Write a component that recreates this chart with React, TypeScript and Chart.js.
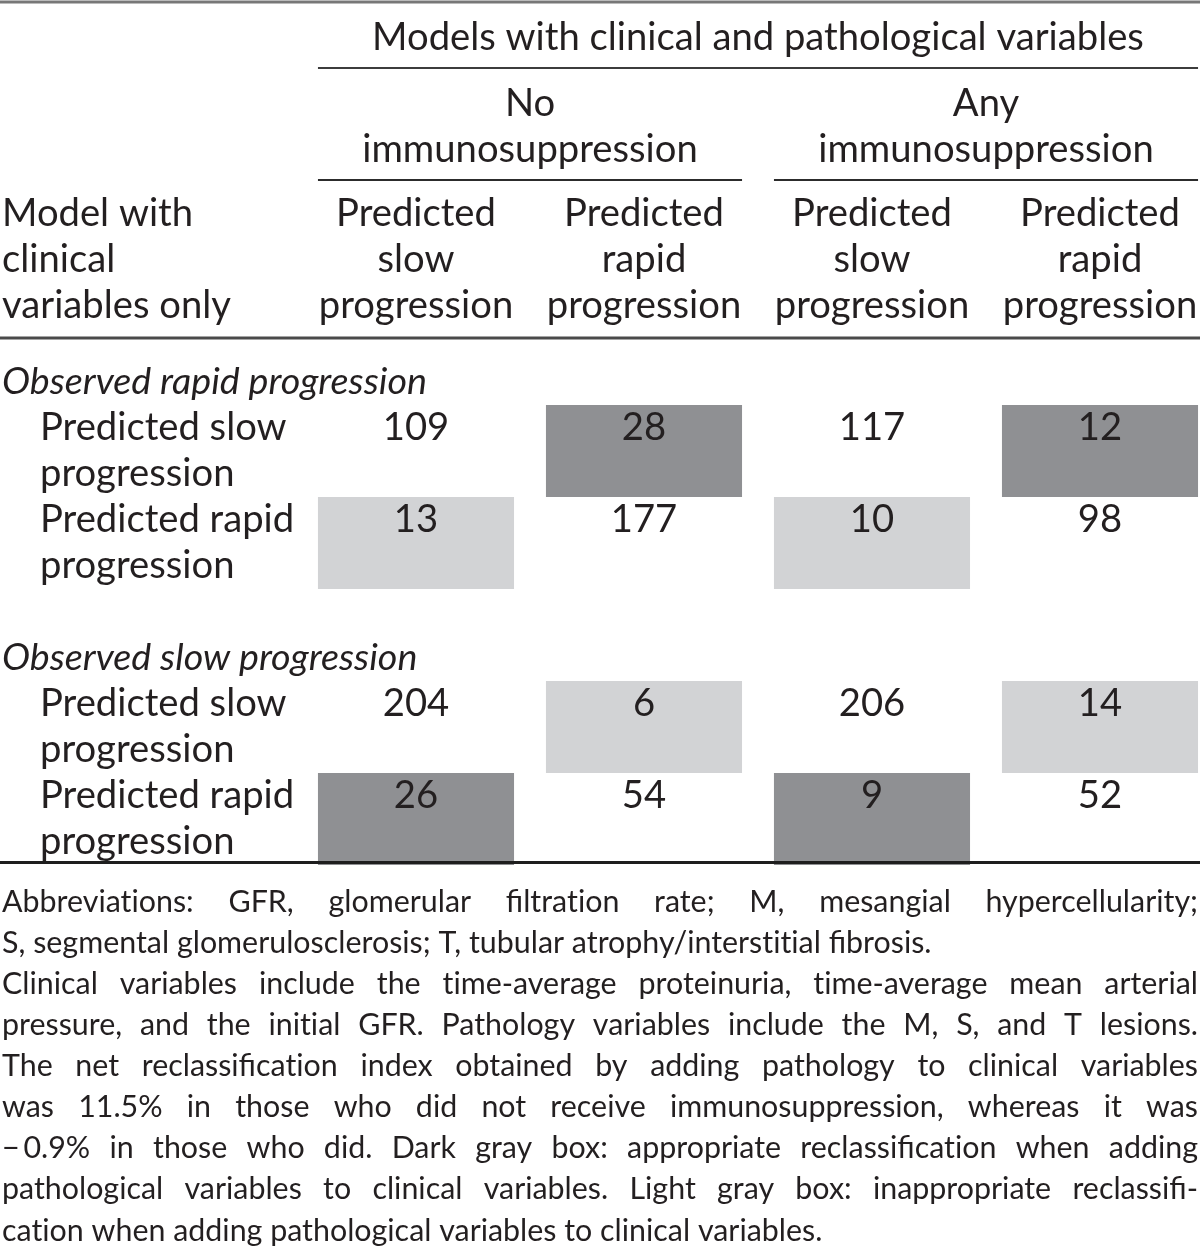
import React, { useEffect, useRef } from "react";
import { Chart, registerables } from "chart.js";

Chart.register(...registerables);

// ---------- DATA ----------
const columnKeys = ["noSlow", "noRapid", "anySlow", "anyRapid"];
const spanningHeader = "Models with clinical and pathological variables";
const groupHeaders = [
  ["No", "immunosuppression"],
  ["Any", "immunosuppression"],
];
const columnHeaders = [
  ["Predicted", "slow", "progression"],
  ["Predicted", "rapid", "progression"],
  ["Predicted", "slow", "progression"],
  ["Predicted", "rapid", "progression"],
];
const stubHeader = ["Model with", "clinical", "variables only"];
const sectionTitles = ["Observed rapid progression", "Observed slow progression"];
const sectionFirstRow = [0, 2];
const rowLabels = [
  ["Predicted slow", "progression"],
  ["Predicted rapid", "progression"],
  ["Predicted slow", "progression"],
  ["Predicted rapid", "progression"],
];
// row index positions on the table's row axis (a blank row separates the sections)
const rowStarts = [0, 1, 3, 4];
const cellValues = [
  [109, 28, 117, 12],
  [13, 177, 10, 98],
  [204, 6, 206, 14],
  [26, 54, 9, 52],
];
const cellShade = [
  ["", "dark", "", "dark"],
  ["light", "", "light", ""],
  ["", "light", "", "light"],
  ["dark", "", "dark", ""],
];
const footnoteLines = [
  "Abbreviations: GFR, glomerular filtration rate; M, mesangial hypercellularity;",
  "S, segmental glomerulosclerosis; T, tubular atrophy/interstitial fibrosis.",
  "Clinical variables include the time-average proteinuria, time-average mean arterial",
  "pressure, and the initial GFR. Pathology variables include the M, S, and T lesions.",
  "The net reclassification index obtained by adding pathology to clinical variables",
  "was 11.5% in those who did not receive immunosuppression, whereas it was",
  "\u2212\u20090.9% in those who did. Dark gray box: appropriate reclassification when adding",
  "pathological variables to clinical variables. Light gray box: inappropriate reclassifi-",
  "cation when adding pathological variables to clinical variables.",
];
const footnoteJustified = [true, false, true, true, true, true, true, true, false];

// ---------- STYLE ----------
const W = 1200;
const H = 1251;
const FONT = "Lato, 'Open Sans', sans-serif";
const TEXT = "#231f20";
const DARK = "#8f9093";
const LIGHT = "#d2d3d5";
const BAR_PCT = 0.86;

// break Lato's "ti"/"tt" ligatures (not present in the reference typeface)
const noLig = (s: string) => s.replace(/t(?=[it])/g, "t\u200C");

function fitSize(ctx: CanvasRenderingContext2D, font: (s: number) => string, text: string, target: number) {
  ctx.font = font(100);
  const w = ctx.measureText(noLig(text)).width;
  return (100 * target) / w;
}

function hline(ctx: CanvasRenderingContext2D, x1: number, x2: number, y: number, lw: number, color: string) {
  ctx.save();
  ctx.strokeStyle = color;
  ctx.lineWidth = lw;
  ctx.beginPath();
  ctx.moveTo(x1, y);
  ctx.lineTo(x2, y);
  ctx.stroke();
  ctx.restore();
}

function txt(ctx: CanvasRenderingContext2D, s: string, x: number, y: number) {
  ctx.fillText(noLig(s), x, y);
}

function justify(ctx: CanvasRenderingContext2D, line: string, x1: number, x2: number, y: number) {
  const words = line.split(" ").map(noLig);
  const widths = words.map((w) => ctx.measureText(w).width);
  const total = widths.reduce((a, b) => a + b, 0);
  const gap = words.length > 1 ? (x2 - x1 - total) / (words.length - 1) : 0;
  let x = x1;
  words.forEach((w, i) => {
    ctx.fillText(w, x, y);
    x += widths[i] + gap;
  });
}

const tablePlugin = {
  id: "tableText",
  afterDatasetsDraw(chart: any) {
    const ctx: CanvasRenderingContext2D = chart.ctx;
    const xs = chart.scales.x;
    const ys = chart.scales.y;
    const colX = (i: number) => xs.getPixelForValue(i);
    const slot = colX(1) - colX(0);
    const halfBar = (slot * BAR_PCT) / 2;
    const rowTop = (r: number) => ys.getPixelForValue(rowStarts[r]);
    const unit = ys.getPixelForValue(1) - ys.getPixelForValue(0);
    const lineH = unit / 2;

    const reg = (s: number) => `400 ${s}px ${FONT}`;
    const ita = (s: number) => `italic 400 ${s}px ${FONT}`;
    const size = fitSize(ctx, reg, spanningHeader, 772);
    const isize = fitSize(ctx, ita, sectionTitles[0], 425);
    const fsize = fitSize(ctx, reg, footnoteLines[1], 930);

    ctx.save();
    ctx.fillStyle = TEXT;
    ctx.textBaseline = "middle";

    const tableLeft = colX(0) - halfBar;
    const tableRight = colX(columnKeys.length - 1) + halfBar;

    // top rule
    hline(ctx, 0, W, 2, 3, "#777777");

    ctx.font = reg(size);
    ctx.textAlign = "center";
    txt(ctx, spanningHeader, (tableLeft + tableRight) / 2, 38);
    hline(ctx, tableLeft, tableRight, 68, 2, "#3c3c3c");

    groupHeaders.forEach((g, gi) => {
      const a = colX(gi * 2) - halfBar;
      const b = colX(gi * 2 + 1) + halfBar;
      txt(ctx, g[0], (a + b) / 2, 104);
      txt(ctx, g[1], (a + b) / 2, 150);
      hline(ctx, a, b, 180, 2, "#2c2c2c");
    });

    const headY = [214, 260, 306];
    columnHeaders.forEach((lines, ci) => {
      lines.forEach((t, li) => txt(ctx, t, colX(ci), headY[li]));
    });
    ctx.textAlign = "left";
    stubHeader.forEach((t, li) => txt(ctx, t, 2, headY[li]));

    hline(ctx, 0, W, 338, 3, "#4a4a4a");

    // section titles
    ctx.font = ita(isize);
    sectionTitles.forEach((t, si) => {
      txt(ctx, t, 2, rowTop(sectionFirstRow[si]) - lineH / 2);
    });

    // row labels and values
    ctx.font = reg(size);
    rowLabels.forEach((lines, r) => {
      ctx.textAlign = "left";
      lines.forEach((t, li) => txt(ctx, t, 40, rowTop(r) + lineH / 2 + li * lineH));
      ctx.textAlign = "center";
      cellValues[r].forEach((v, c) => txt(ctx, String(v), colX(c), rowTop(r) + lineH / 2));
    });

    // bottom rule
    hline(ctx, 0, W, ys.getPixelForValue(5) - 2.5, 3, "#1e1e1e");

    // footnotes
    ctx.font = reg(fsize);
    ctx.textAlign = "left";
    footnoteLines.forEach((t, i) => {
      const y = 902 + i * 41.1;
      if (footnoteJustified[i]) justify(ctx, t, 2, 1198, y);
      else txt(ctx, t, 2, y);
    });
    ctx.restore();
  },
};

function buildShadeData(kind: string) {
  const out: { x: string; y: [number, number] }[] = [];
  cellShade.forEach((row, r) =>
    row.forEach((s, c) => {
      if (s === kind) out.push({ x: columnKeys[c], y: [rowStarts[r], rowStarts[r] + 1] });
    })
  );
  return out;
}

export default function App() {
  const ref = useRef<HTMLCanvasElement | null>(null);
  useEffect(() => {
    if (!ref.current) return;
    const chart = new Chart(ref.current, {
      type: "bar",
      data: {
        labels: columnKeys,
        datasets: [
          {
            label: "Appropriate reclassification",
            data: buildShadeData("dark") as any,
            backgroundColor: DARK,
            borderWidth: 0,
            grouped: false,
            barPercentage: BAR_PCT,
            categoryPercentage: 1,
            clip: false,
          } as any,
          {
            label: "Inappropriate reclassification",
            data: buildShadeData("light") as any,
            backgroundColor: LIGHT,
            borderWidth: 0,
            grouped: false,
            barPercentage: BAR_PCT,
            categoryPercentage: 1,
            clip: false,
          } as any,
        ],
      },
      options: {
        animation: false,
        responsive: true,
        maintainAspectRatio: false,
        layout: { padding: { left: 416, right: 100, top: 405, bottom: 386 } },
        plugins: { legend: { display: false }, tooltip: { enabled: false } },
        events: [],
        scales: {
          x: { type: "category", offset: false, display: false, grid: { display: false } },
          y: { type: "linear", min: 0, max: 5, reverse: true, display: false, grid: { display: false } },
        },
      },
      plugins: [tablePlugin],
    });
    return () => chart.destroy();
  }, []);
  return (
    <div style={{ position: "absolute", left: 0, top: 0, width: W, height: H, background: "#fff", overflow: "hidden" }}>
      <canvas ref={ref} />
    </div>
  );
}
